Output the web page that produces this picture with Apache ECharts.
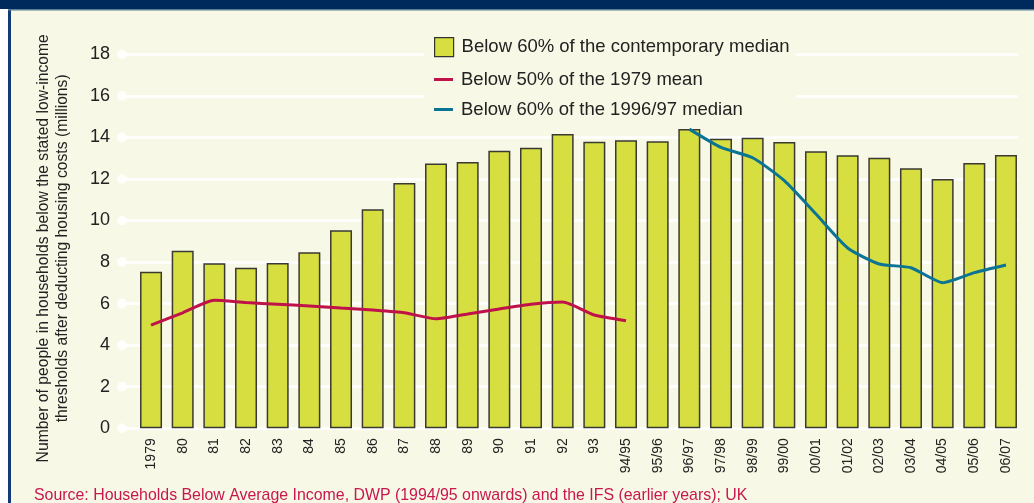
<!DOCTYPE html>
<html>
<head>
<meta charset="utf-8">
<script src="https://cdn.jsdelivr.net/npm/echarts@6/dist/echarts.min.js"></script>
<style>
html,body{margin:0;padding:0;background:#f7f8e5;}
#chart{width:1034px;height:503px;}
</style>
</head>
<body>
<div id="chart"></div>
<script>
const categories = ['1979','80','81','82','83','84','85','86','87','88','89','90','91','92','93','94/95','95/96','96/97','97/98','98/99','99/00','00/01','01/02','02/03','03/04','04/05','05/06','06/07'];
const contemporaryMedian = [7.54, 8.55, 7.94, 7.73, 7.95, 8.47, 9.53, 10.54, 11.8, 12.74, 12.82, 13.36, 13.5, 14.16, 13.79, 13.86, 13.81, 14.40, 13.94, 13.98, 13.78, 13.33, 13.14, 13.02, 12.51, 12.0, 12.77, 13.15];
const mean1979 = [4.97, 5.56, 6.16, 6.05, 5.97, 5.89, 5.79, 5.69, 5.56, 5.27, 5.50, 5.74, 5.97, 6.08, 5.45, 5.18, null, null, null, null, null, null, null, null, null, null, null, null];
const median9697 = [null, null, null, null, null, null, null, null, null, null, null, null, null, null, null, null, null, 14.40, 13.52, 13.02, 11.92, 10.31, 8.68, 7.91, 7.73, 7.01, 7.49, 7.86];
const yTicks = [0, 2, 4, 6, 8, 10, 12, 14, 16, 18];

const names = ['Below 60% of the contemporary median', 'Below 50% of the 1979 mean', 'Below 60% of the 1996/97 median'];
const BG = '#f7f8e5', BAR = '#d6df3f', RED = '#c0124a', TEAL = '#0b7394', TXT = '#222222';
const FONT = '"Liberation Sans", Arial, Helvetica, sans-serif';

const chart = echarts.init(document.getElementById('chart'));
const legendText = {fontSize: 18.5, color: TXT, fontFamily: FONT, padding: [0, 0, 0, 3]};
chart.setOption({
  backgroundColor: BG,
  animation: false,
  graphic: [
    {type: 'rect', left: 0, top: 0, shape: {width: 8, height: 503}, style: {fill: '#ffffff'}},
    {type: 'rect', left: 8, top: 0, shape: {width: 3, height: 503}, style: {fill: '#123a78'}},
    {type: 'rect', left: 0, top: 0, shape: {width: 1034, height: 9}, style: {fill: '#002a5c'}},
    {type: 'rect', left: 8, top: 9, shape: {width: 1026, height: 1.5}, style: {fill: '#5a7f95'}}
  ],
  title: {
    text: 'Source: Households Below Average Income, DWP (1994/95 onwards) and the IFS (earlier years); UK',
    left: 29, top: 483,
    textStyle: {color: '#c8164f', fontSize: 15.9, fontWeight: 'normal', fontFamily: FONT}
  },
  legend: [
    {data: [{name: names[0], icon: 'rect'}], left: 424, top: 30, orient: 'vertical',
     itemWidth: 19, itemHeight: 19, padding: [7, 6, 62, 10], backgroundColor: BG,
     textStyle: legendText, itemStyle: {borderColor: '#333', borderWidth: 1.2}},
    {data: [{name: names[1], icon: 'rect'}], left: 434, top: 70, orient: 'vertical',
     itemWidth: 19, itemHeight: 3, padding: 0, textStyle: legendText, itemStyle: {borderWidth: 0}},
    {data: [{name: names[2], icon: 'rect'}], left: 434, top: 100, orient: 'vertical',
     itemWidth: 19, itemHeight: 3, padding: 0, textStyle: legendText, itemStyle: {borderWidth: 0}}
  ],
  grid: [
    {left: 122, right: 16, top: 54.3, bottom: 74.7},
    {left: 135.2, right: 12.2, top: 54.3, bottom: 74.7}
  ],
  xAxis: [
    {type: 'value', gridIndex: 0, min: 0, max: 1, show: false},
    {type: 'category', gridIndex: 1, data: categories,
     axisLine: {show: false}, axisTick: {show: false},
     axisLabel: {rotate: 90, margin: 10, fontSize: 14, color: TXT, fontFamily: FONT, interval: 0}}
  ],
  yAxis: [
    {type: 'value', gridIndex: 0, min: 0, max: 18, interval: 2,
     axisLine: {show: false}, axisTick: {show: false},
     splitLine: {lineStyle: {color: '#ffffff', width: 2.5}},
     axisLabel: {fontSize: 18, color: TXT, margin: 12, fontFamily: FONT},
     name: 'Number of people in households below the stated low-income\nthresholds after deducting housing costs (millions)',
     nameLocation: 'middle', nameRotate: 90, nameGap: 50,
     nameTextStyle: {fontSize: 15.7, color: TXT, lineHeight: 19, fontFamily: FONT, padding: [0, 14, 0, 0]}},
    {type: 'value', gridIndex: 1, min: 0, max: 18, interval: 2, show: false, splitLine: {show: false}}
  ],
  series: [
    {type: 'scatter', xAxisIndex: 0, yAxisIndex: 0, symbol: 'circle', symbolSize: 10,
     itemStyle: {color: '#ffffff'}, data: yTicks.map(v => [0, v]), silent: true, z: 1},
    {name: names[0], type: 'bar', xAxisIndex: 1, yAxisIndex: 1, data: contemporaryMedian, barWidth: 22,
     itemStyle: {color: BAR, borderColor: '#3a3a33', borderWidth: 1.5}},
    {name: names[1], type: 'line', xAxisIndex: 1, yAxisIndex: 1, data: mean1979, showSymbol: false,
     smooth: 0.2, lineStyle: {color: RED, width: 3}, itemStyle: {color: RED}, z: 3},
    {name: names[2], type: 'line', xAxisIndex: 1, yAxisIndex: 1, data: median9697, showSymbol: false,
     smooth: 0.2, lineStyle: {color: TEAL, width: 3}, itemStyle: {color: TEAL}, z: 3}
  ]
});
</script>
</body>
</html>
